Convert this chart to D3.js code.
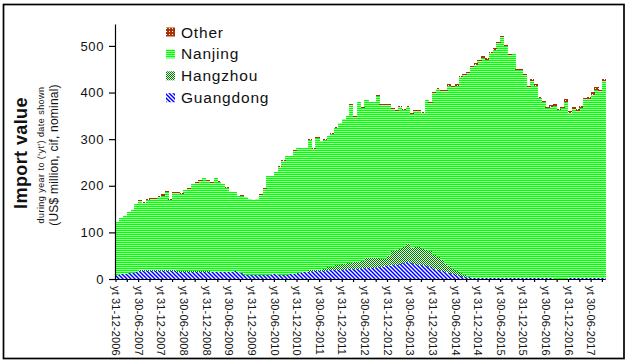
<!DOCTYPE html>
<html><head><meta charset="utf-8">
<script src="https://cdn.jsdelivr.net/npm/d3@7"></script>
<style>
body{margin:0;background:#fff}
svg{display:block}
text{font-family:"Liberation Sans",Arial,sans-serif;fill:#111}
</style>
</head><body>
<svg id="c" width="628" height="363"></svg>
<script>
// Monthly year-to-date import values (US$ million), Dec 2006 .. Sep 2017
const seriesNames = ["Guangdong","Hangzhou","Nanjing","Other"];
const guangdong = [9,10,11,12,13,14,17,18,18,18, 18,17,17,18,17,17,16,16,16,16,
  16,16,16,16,16,15,15,15,15,15, 15,18,16,12,9,9,9,9,9,9, 9,10,10,9,9,9,10,11,12,14,
  15,16,17,17,17,18,19,19,20,20, 20,21,21,22,22,23,23,24,24,25, 26,27,28,29,31,33,35,37,35,33,
  31,29,27,25,22,19,17,14,12,10, 8,6,5,4,3,3,3,2,2,2, 2,2,2,2,2,2,2,2,2,2,
  2,2,2,2,2,2,0,0,0,0, 2,2,2,2,2,2,2,2,2,2];
const hangzhou = [0,0,0,0,0,0,2,2,2,2, 2,2,2,2,2,2,1,1,1,1, 1,1,1,1,1,1,1,1,1,1,
  1,0,0,0,0,0,0,0,0,0, 0,0,0,0,0,0,0,0,1,1, 1,3,3,3,3,4,6,7,9,11,
  13,13,14,15,15,15,23,20,21,20, 17,16,22,31,31,32,33,38,31,36, 37,35,36,35,30,28,23,19,15,12,
  9,6,3,1,0,0,0,0,0,0, 0,0,0,0,0,0,0,0,0,0, 0,0,0,0,0,0,0,0,0,0, 0,0,0,0,0,0,0,0,0,0];
const nanjing = [114,121,125,132,136,146,148,144,150,152, 152,157,160,167,150,165,168,166,173,177,
  186,190,194,199,194,191,200,193,187,180, 170,168,161,167,166,162,160,162,172,185,
  212,211,219,232,245,254,253,264,267,265, 264,280,259,283,275,277,281,285,294,303,
  310,315,338,311,342,329,337,335,334,347, 330,331,324,304,299,304,294,294,289,292,
  292,293,320,317,348,361,363,371,388,390, 398,422,429,437,451,457,465,473,468,482,
  490,505,517,498,479,480,446,446,436,409, 423,413,387,378,364,367,372,362,366,380,
  354,363,359,364,384,385,393,404,401,422];
const other = [0,0,0,0,0,1,3,2,2,2, 2,2,3,2,2,3,2,1,1,1, 1,1,1,1,1,1,1,1,1,1,
  1,1,1,1,1,1,1,1,1,1, 1,1,1,1,1,1,1,2,1,1, 1,1,1,1,1,1,1,2,2,1,
  1,1,2,2,1,1,1,1,1,3, 2,1,2,3,2,2,3,2,2,2, 3,2,1,3,1,2,3,2,3,2,
  3,2,3,2,3,3,2,3,3,3, 3,2,3,1,2,1,2,2,2,2, 3,3,2,2,2,4,3,2,4,6,
  5,3,4,5,3,4,6,5,3,4];
const firstMonth = [2006, 12];
const tickLabels = ["yt 31-12-2006","yt 30-06-2007","yt 31-12-2007","yt 30-06-2008","yt 31-12-2008",
  "yt 30-06-2009","yt 31-12-2009","yt 30-06-2010","yt 31-12-2010","yt 30-06-2011","yt 31-12-2011",
  "yt 30-06-2012","yt 31-12-2012","yt 30-06-2013","yt 31-12-2013","yt 30-06-2014","yt 31-12-2014",
  "yt 30-06-2015","yt 31-12-2015","yt 30-06-2016","yt 31-12-2016","yt 30-06-2017"];
const yTicks = [0,100,200,300,400,500];

const n = nanjing.length;
const data = d3.range(n).map(i => ({i, Guangdong: guangdong[i], Hangzhou: hangzhou[i], Nanjing: nanjing[i], Other: other[i]}));

const svg = d3.select("#c");
const defs = svg.append("defs");
// patterns
let p = defs.append("pattern").attr("id","pNan").attr("patternUnits","userSpaceOnUse").attr("width",4).attr("height",2);
p.append("rect").attr("width",4).attr("height",2).attr("fill","#fff");
p.append("rect").attr("width",4).attr("height",1.35).attr("fill","#00ff00");
p = defs.append("pattern").attr("id","pGd").attr("patternUnits","userSpaceOnUse").attr("width",4).attr("height",4);
p.append("rect").attr("width",4).attr("height",4).attr("fill","#fff");
p.append("path").attr("d","M-1,-1L5,5M-1,3L1,5M3,-1L5,1").attr("stroke","#0000ff").attr("stroke-width",1.5);
p = defs.append("pattern").attr("id","pHz").attr("patternUnits","userSpaceOnUse").attr("width",2).attr("height",2);
p.append("rect").attr("width",2).attr("height",2).attr("fill","#e8f5e8");
p.append("rect").attr("width",1).attr("height",1).attr("fill","#007a00");
p.append("rect").attr("x",1).attr("y",1).attr("width",1).attr("height",1).attr("fill","#007a00");
p = defs.append("pattern").attr("id","pOt").attr("patternUnits","userSpaceOnUse").attr("width",3).attr("height",3);
p.append("rect").attr("width",3).attr("height",3).attr("fill","#a83208");
p.append("rect").attr("x",1).attr("y",1).attr("width",1).attr("height",1).attr("fill","#fff");

const fills = {Guangdong:"url(#pGd)", Hangzhou:"url(#pHz)", Nanjing:"url(#pNan)", Other:"url(#pOt)"};

const x0 = 115.5, x1 = 605.7;
const x = d3.scaleBand().domain(d3.range(n)).range([x0, x1]).padding(0);
const xl = d3.scaleLinear().domain([0, n]).range([x0, x1]);
const y = d3.scaleLinear().domain([0, 547]).range([279, 24]);

const stack = d3.stack().keys(seriesNames)(data);
svg.append("g").selectAll("g").data(stack).join("g")
  .attr("fill", s => fills[s.key])
  .selectAll("rect").data(s => s).join("rect")
  .attr("shape-rendering","crispEdges")
  .attr("x", d => x(d.data.i))
  .attr("width", x.bandwidth()+0.4)
  .attr("y", d => y(d[1]))
  .attr("height", d => Math.max(0, y(d[0]) - y(d[1])));

// y axis
const ya = svg.append("g").attr("transform","translate(115,0)")
  .call(d3.axisLeft(y).tickValues(yTicks).tickSize(6).tickSizeOuter(0).tickPadding(5));
ya.selectAll("path,line").attr("stroke","#000").attr("stroke-width",1.2);
ya.selectAll("text").attr("font-size",13).attr("letter-spacing",0.6).attr("fill","#111")
  .attr("font-family","Liberation Sans, Arial, sans-serif");

// x axis
const xticks = d3.range(0, n, 3);
const xa = svg.append("g").attr("transform","translate(0,279)")
  .call(d3.axisBottom(xl).tickValues(xticks).tickSize(3).tickSizeOuter(0)
    .tickFormat(i => i % 6 === 0 ? tickLabels[i/6] : ""));
xa.select(".domain").attr("d", `M${x0-0.5},0.5H${x1}`);
xa.selectAll("path,line").attr("stroke","#000").attr("stroke-width",1.2);
xa.selectAll("text").attr("font-size",11).attr("letter-spacing",0.15)
  .attr("font-family","Liberation Sans, Arial, sans-serif").attr("fill","#111")
  .attr("transform","rotate(90)").attr("x",7).attr("y",0).attr("dy","0.35em")
  .attr("text-anchor","start");

// y titles
svg.append("text").attr("transform","translate(27,153) rotate(-90)")
  .attr("text-anchor","middle").attr("font-size",18).attr("font-weight","bold")
  .attr("letter-spacing",0.4).text("Import value");
svg.append("text").attr("transform","translate(44,155) rotate(-90)")
  .attr("text-anchor","middle").attr("font-size",9).attr("letter-spacing",0.45)
  .text("during year to ('yt') date shown");
svg.append("text").attr("transform","translate(58,155) rotate(-90)")
  .attr("text-anchor","middle").attr("font-size",12).attr("letter-spacing",0.2)
  .text("(US$ million, cif, nominal)");

// legend
const legendItems = ["Other","Nanjing","Hangzhou","Guangdong"];
const lg = svg.append("g");
legendItems.forEach((k, j) => {
  const cy = 32 + j*21.9;
  lg.append("rect").attr("x",166).attr("y",cy-4.5).attr("width",9).attr("height",9).attr("fill",fills[k]);
  lg.append("text").attr("x",181).attr("y",cy).attr("dy","0.36em").attr("font-size",15.5)
    .attr("letter-spacing",0.8).text(k);
});

// frame
svg.append("rect").attr("x",3.5).attr("y",4.5).attr("width",620.5).attr("height",354)
  .attr("fill","none").attr("stroke","#000").attr("stroke-width",1.7);
</script>
</body></html>
